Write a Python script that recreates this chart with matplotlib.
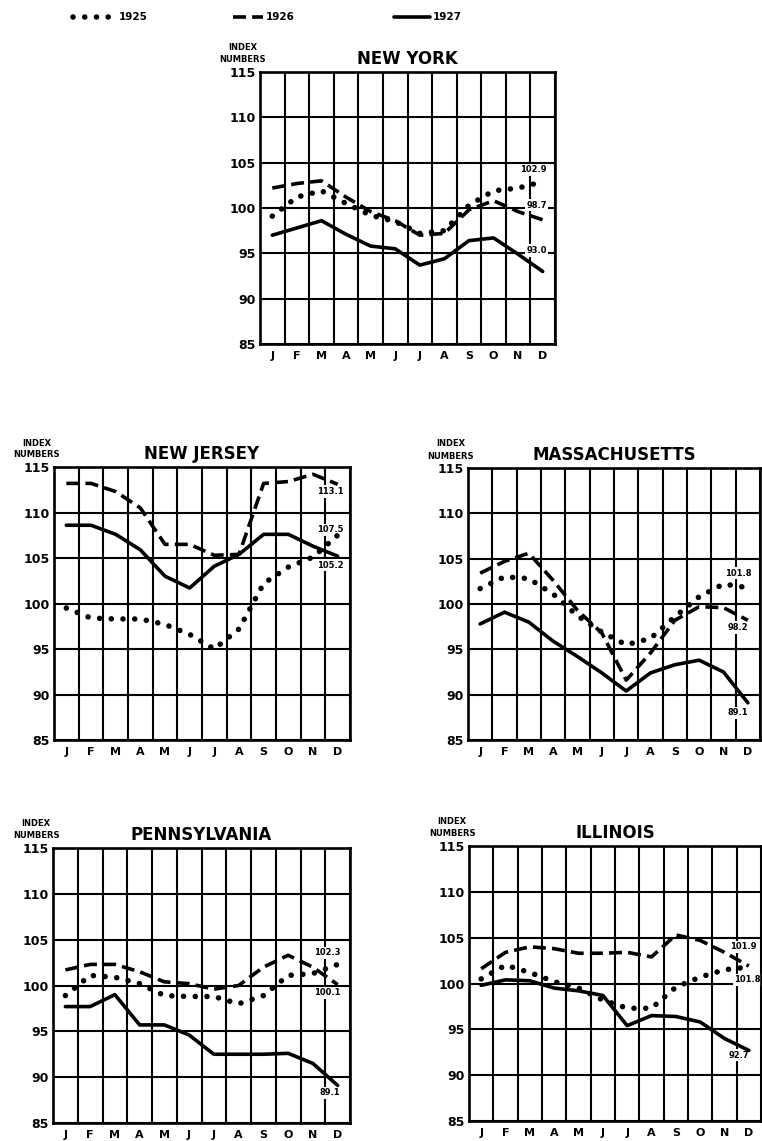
import matplotlib
matplotlib.use("Agg")
import matplotlib.pyplot as plt
import numpy as np

plt.rcParams['font.family'] = ['DejaVu Sans']
plt.rcParams['font.weight'] = 'bold'

months = ['J', 'F', 'M', 'A', 'M', 'J', 'J', 'A', 'S', 'O', 'N', 'D']
years = ['1925', '1926', '1927']
yticks = [85, 90, 95, 100, 105, 110, 115]

ny_1925 = [99.1, 101.2, 101.9, 100.5, 99.2, 98.5, 97.2, 97.5, 100.3, 101.9, 102.2, 102.9]
ny_1926 = [102.2, 102.7, 103.0, 101.2, 99.6, 98.6, 97.0, 97.2, 99.8, 100.8, 99.6, 98.7]
ny_1927 = [97.0, 97.8, 98.6, 97.1, 95.8, 95.5, 93.7, 94.4, 96.4, 96.7, 94.9, 93.0]

nj_1925 = [99.5, 98.4, 98.3, 98.3, 97.7, 96.6, 95.0, 97.2, 102.2, 104.0, 105.1, 107.5]
nj_1926 = [113.2, 113.2, 112.3, 110.5, 106.5, 106.5, 105.3, 105.4, 113.2, 113.4, 114.2, 113.1]
nj_1927 = [108.6, 108.6, 107.6, 105.9, 103.0, 101.7, 104.1, 105.4, 107.6, 107.6, 106.3, 105.2]

ma_1925 = [101.7, 103.0, 102.8, 101.1, 98.7, 96.9, 95.5, 96.2, 98.6, 100.8, 102.2, 101.8]
ma_1926 = [103.4, 104.7, 105.6, 102.6, 99.3, 96.8, 91.6, 94.6, 98.2, 99.7, 99.6, 98.2]
ma_1927 = [97.8, 99.1, 98.0, 95.9, 94.2, 92.4, 90.4, 92.4, 93.3, 93.8, 92.5, 89.1]

pa_1925 = [98.9, 101.1, 100.9, 100.2, 98.9, 98.8, 98.8, 98.0, 98.9, 101.1, 101.3, 102.3]
pa_1926 = [101.7, 102.3, 102.3, 101.5, 100.4, 100.2, 99.6, 100.0, 102.0, 103.3, 102.0, 100.1]
pa_1927 = [97.7, 97.7, 99.0, 95.7, 95.7, 94.6, 92.5, 92.5, 92.5, 92.6, 91.5, 89.1]

il_1925 = [100.5, 102.0, 101.2, 100.2, 99.5, 98.2, 97.3, 97.3, 99.6, 100.7, 101.5, 101.8]
il_1926 = [101.6, 103.4, 104.0, 103.8, 103.3, 103.3, 103.4, 102.9, 105.3, 104.7, 103.4, 101.9]
il_1927 = [99.8, 100.4, 100.3, 99.5, 99.2, 98.7, 95.4, 96.5, 96.4, 95.8, 94.0, 92.7]

# end labels: (text, x position in months, y position)
ny_labels = [('102.9', 11.1, 104.2), ('98.7', 11.25, 100.3), ('93.0', 11.25, 95.3)]
nj_labels = [('113.1', 11.2, 112.3), ('107.5', 11.2, 108.1), ('105.2', 11.2, 104.2)]
ma_labels = [('101.8', 11.1, 103.4), ('98.2', 11.1, 97.4), ('89.1', 11.1, 88.0)]
pa_labels = [('102.3', 11.1, 103.55), ('100.1', 11.1, 99.2), ('89.1', 11.2, 88.3)]
il_labels = [('101.9', 11.26, 104.0), ('101.8', 11.45, 100.4), ('92.7', 11.1, 92.2)]

W, H = 762, 1141
fig = plt.figure(figsize=(W / 100, H / 100), dpi=100)
fig.patch.set_facecolor('white')

LW = 2.6
styles = {
    '1925': dict(linestyle=(0, (0.01, 2.1)), lw=4.0, dash_capstyle='round', solid_capstyle='round'),
    '1926': dict(linestyle=(0, (3.6, 1.7)), lw=LW, dash_capstyle='butt'),
    '1927': dict(linestyle='-', lw=LW, solid_capstyle='round'),
}


def panel(box, title, series, labels):
    l, t, r, b = box
    ax = fig.add_axes([l / W, 1 - b / H, (r - l) / W, (b - t) / H])
    ax.set_xlim(0, 12)
    ax.set_ylim(85, 115)
    ax.set_xticks(np.arange(13))
    ax.set_xticklabels([])
    ax.set_xticks(np.arange(12) + 0.5, minor=True)
    ax.set_xticklabels(months, minor=True, fontsize=8, fontweight='bold')
    ax.set_yticks(yticks)
    ax.set_yticklabels([str(v) for v in yticks], fontsize=9, fontweight='bold')
    ax.tick_params(which='both', length=0)
    ax.tick_params(axis='x', which='minor', pad=5)
    ax.tick_params(axis='y', pad=3)
    ax.set_axisbelow(True)
    ax.grid(True, which='major', color='black', lw=1.5)
    for s in ax.spines.values():
        s.set_linewidth(1.9)
        s.set_color('black')
    x = np.arange(12) + 0.5
    for yr, vals in zip(years, series):
        ax.plot(x, vals, color='black', zorder=3, **styles[yr])
    for txt, lx, ly in labels:
        ax.text(lx, ly, txt, fontsize=6, fontweight='bold', ha='center', va='center',
                zorder=2, bbox=dict(facecolor='white', edgecolor='none', pad=1.2))
    ax.set_title(title, fontsize=12, fontweight='bold', pad=6)
    # INDEX NUMBERS caption
    cx = (l - 17) / W
    fig.text(cx, 1 - (t - 24) / H, 'INDEX', fontsize=6, fontweight='bold', ha='center', va='center')
    fig.text(cx, 1 - (t - 12) / H, 'NUMBERS', fontsize=6, fontweight='bold', ha='center', va='center')
    return ax


panel((260, 72, 555, 344), 'NEW YORK', [ny_1925, ny_1926, ny_1927], ny_labels)
panel((54, 467, 350, 740), 'NEW JERSEY', [nj_1925, nj_1926, nj_1927], nj_labels)
panel((468, 468, 760, 740), 'MASSACHUSETTS', [ma_1925, ma_1926, ma_1927], ma_labels)
panel((53, 848, 350, 1123), 'PENNSYLVANIA', [pa_1925, pa_1926, pa_1927], pa_labels)
panel((469, 846, 761, 1121), 'ILLINOIS', [il_1925, il_1926, il_1927], il_labels)

# legend row at top
ov = fig.add_axes([0, 0, 1, 1])
ov.set_xlim(0, W)
ov.set_ylim(H, 0)
ov.axis('off')
legend_pos = {'1925': (73, 116), '1926': (233, 263), '1927': (394, 430)}
for yr in years:
    x0, x1 = legend_pos[yr]
    ov.plot([x0, x1], [17, 17], color='black', **styles[yr])
    ov.text(x1 + 3, 17, yr, fontsize=7.5, fontweight='bold', ha='left', va='center')

fig.savefig('out.png', dpi=100, facecolor='white')
